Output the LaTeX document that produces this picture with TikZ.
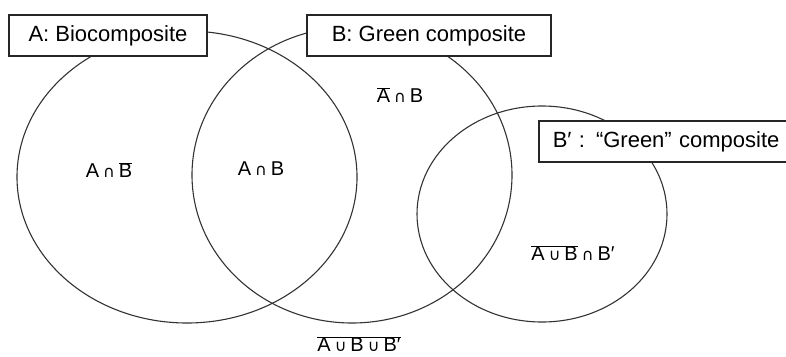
\documentclass[tikz,border=0pt]{standalone}
\usepackage{fontspec}
\setmainfont{Liberation Sans}
\newfontfamily\symfont{DejaVu Sans}
\newcommand{\mycap}{\hspace{4pt}{\symfont\fontsize{16}{16}\selectfont ∩}\hspace{4pt}}
\newcommand{\mycup}{\hspace{4pt}{\symfont\fontsize{16}{16}\selectfont ∪}\hspace{4pt}}
\newcommand{\ovl}[1]{$\overline{\mbox{#1}}$}
\begin{document}
\begin{tikzpicture}[x=1pt,y=-1pt,
  setline/.style={draw=black!80,line width=1.1pt},
  labelbox/.style={draw=black!85,line width=1.5pt,fill=white,font=\fontsize{22}{24}\selectfont,inner xsep=0pt,inner ysep=0pt,text height=15pt,text depth=4pt,anchor=center},
  setlabel/.style={font=\fontsize{20}{22}\selectfont,inner sep=0pt}]
\useasboundingbox (0,0) rectangle (786,356);
\begin{scope}
\clip (0,0) rectangle (786,356);
% sets
\draw[setline] (187,177) ellipse [x radius=170, y radius=146];
\draw[setline] (352,175) ellipse [x radius=160, y radius=148];
\draw[setline] (542,214) ellipse [x radius=125, y radius=108];
% boxes
\node[labelbox,minimum width=198pt,minimum height=41pt] (boxA) at (108,35.5) {A: Biocomposite};
\node[labelbox,minimum width=244pt,minimum height=41pt] (boxB) at (429,35.5) {B: Green composite};
\node[labelbox,minimum width=262pt,minimum height=41pt,anchor=west,text width=262pt,align=left] (boxBp) at (538,141.5) {\hspace{14pt}B′ : “Green” composite};
\end{scope}
% region labels
\node[setlabel] (lAnB) at (109,170) {A\mycap\ovl{B}};
\node[setlabel] (lAB) at (261,169) {A\mycap B};
\node[setlabel] (lnAB) at (400,95) {\ovl{A}\mycap B};
\node[setlabel] (lUBp) at (573,253) {\ovl{A\mycup B}\mycap B′};
\node[setlabel] (lnone) at (359,344) {\ovl{A\mycup B\mycup B′}};
\end{tikzpicture}
\end{document}
